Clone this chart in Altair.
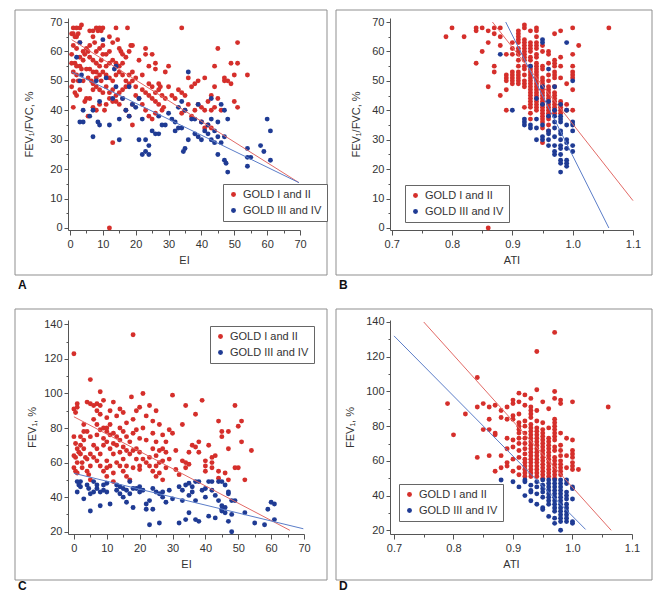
import altair as alt
import pandas as pd

RED = "#d52f2b"
BLUE = "#1f3b94"
LINE_RED = "#e26a66"
LINE_BLUE = "#5b7dc8"
GROUPS = ["GOLD I and II", "GOLD III and IV"]
FONT = "Liberation Sans"

# ---------------- Panel A : EI vs FEV1/FVC (%) ----------------
a_red = [
    (1,68),(2,68),(3,68),(3.5,69),(1,66),(2,65),(0.5,66),(1.5,65),(2.5,66),(1,62),(2,61),(3,63),
    (0.5,59),(3,58),(4,60),(4.5,59),(1.5,56),(0.5,56),(2,55),(3,55),(4,57),(1,53),(2,52),(0.5,48),
    (1.5,46),(2,45),(3,47),(1,50),(4,50),(2.5,50),(1,41),(4.5,43),(5,44),(3.5,54),
    (6,67),(7,67),(8,68),(8.5,67),(9,68),(9.5,67),(10,68),(6,62),(7,65),(7.5,63),(8,60),(9,61),
    (10,62),(5,61),(5.5,60),(6,58),(7,57),(8,56),(9,55),(9.5,57),(10,59),(5,54),(6,54),(7,53),
    (8,53),(9,52),(10,53),(5.5,51),(6.5,50),(7,49),(8,48),(9,47),(10,46),(6,44),(7,41),(8,40),
    (9,42),(5.5,38),(7,47),(8,51),(9.5,50),
    (11,59),(12,60),(12,65),(13,63),(14,68),(14.5,64),(15,61),(15.5,60),(16,59),(11,55),(12,56),
    (13,57),(14,56),(15,55),(16,56),(17,58),(18,60),(18.5,62),(19,62),(11,52),(12,51),(13,50),
    (14,52),(15,53),(16,52),(17,50),(18,52),(19,53),(20,51),(11,48),(12,46),(13,47),(14,45),
    (15,46),(16,47),(17,48),(18,49),(19,50),(20,48),(12,44),(13,43),(14,43),(15,42),(16,44),
    (17,40),(18,38),(19,35),(19,42),(20,45),(13,29),(12,0),(11,42),(10.5,40),(17.5,68),
    (21,57),(22,52),(23,61),(23,59),(24,55),(25,59),(26,54),(22,47),(23,46),(24,45),(25,48),
    (26,46),(27,47),(27.5,48),(28,45),(29,44),(30,48),(26,56),(27,49),(21,44),(22,42),(23,40),
    (24,38),(25,37),(26,39),(27,42),(28,40),(28.5,41),(29,53),(30,55),(24,49),(25,44),(26,43),
    (31,45),(32,44),(33,47),(34,68),(34,46),(35,45),(34,39),(36,51),(37,48),(38,49),(39,50),
    (39,42),(40,36),(40,41),(41,40),(38,40),(35,40),(36,42),(37,38),
    (41,34),(42,35),(43,34),(41,51),(43,45),(44,48),(44,55),(45,61),(45,44),(46,40),(47,51),
    (47,50),(48,50),(49,56),(49,49),(50,43),(50,52),(51,41),(51,63),(51,56),(54,52),(42,43),
    (43,40),(44,41),
]
a_blue = [
    (2,58),(3,63),(3,50),(3.5,52),(4,40),(3,36),(4,36),(6,38),(7,31),(7,40),(8,50),(8.5,36),
    (9,35),(9,43),(10,64),(11,51),(12,35),(13,44),(13.5,54),(14,55),(14,48),(15,37),(15,30),
    (16,44),(17,40),(18,38),(18,48),(19,42),(20,41),(21,30),(21,44),(22,25),(22,37),(23,26),
    (24,25),(24,28),(25,33),(26,32),(27,32),(27,38),(28,35),(29,35),(30,39),(31,37),(32,36),
    (32,33),(33,41),(33,34),(34,43),(34,34),(35,40),(35,27),(34.5,26),(36,53),(36,30),(37,37),
    (38,32),(39,31),(40,30),(40,36),(41,33),(42,35),(42,32),(43,30),(43,44),(43,37),(44,29),
    (45,36),(45,31),(45,25),(46,42),(46,29),(47,40),(47,31),(47,23),(47.5,22),(48,19),(48,37),
    (54,27),(54,24),(54,21),(55,24),(58,28),(59,26),(60,37),(61,33),(61,23),(44,33),(38,37),
    (39,42),(23,30),
]
a_line_red = [(0.5, 64.0), (69.7, 15.4)]
a_line_blue = [(0.5, 53.0), (69.7, 15.4)]

# ---------------- Panel B : ATI vs FEV1/FVC (%) ----------------
b_red_single = [
    (0.79,65),(0.80,68),(0.82,65),(0.84,67),(0.84,68),(0.84,56),(0.85,68),(0.85,60),(0.86,67),
    (0.86,63),(0.86,48),(0.87,68),(0.87,66),(0.87,55),(0.87,53),(0.88,68),(0.88,65),(0.88,62),
    (0.88,45),(0.89,40),(0.89,47),(0.86,0),(1.06,68),(1.01,62),(1.00,68),(0.98,67),(0.97,66),
    (0.99,49),
]
b_red_cols = {
    0.89: [59, 52, 51, 50],
    0.90: [63, 61, 59, 53, 52, 51, 50, 49],
    0.91: [67, 66, 65, 64, 63, 61, 60, 59, 57, 55, 53, 52, 51, 50, 49],
    0.92: [69, 68, 64, 63, 62, 61, 60, 59, 58, 57, 55, 54, 52, 50, 49, 48, 41],
    0.93: [67, 63, 62, 61, 60, 58, 57, 55, 54, 53, 52, 51, 50, 49, 48, 47, 46, 45, 44, 43, 42, 41, 39, 37],
    0.94: [68, 67, 65, 63, 62, 61, 59, 58, 56, 55, 54, 53, 52, 51, 50, 49, 48, 47, 46, 45, 44, 43, 42, 41, 40],
    0.95: [62, 60, 55, 54, 51, 50, 49, 48, 47, 46, 45, 44, 43, 42, 41, 40, 39, 38, 37, 36, 34, 29],
    0.96: [60, 59, 56, 52, 50, 48, 47, 46, 45, 44, 43, 42, 41, 40, 39, 38, 37, 35, 33],
    0.97: [57, 56, 55, 53, 52, 51, 48, 46, 45, 44, 43, 42, 41, 40, 39],
    0.98: [58, 55, 51, 43, 42, 41, 40, 39],
    0.99: [42, 40],
    1.00: [59, 55, 53, 52, 51, 47, 40],
}
b_blue = [
    (0.88,59),(0.90,40),(0.92,37),(0.92,36),(0.92,35),(0.93,35),(0.93,34),(0.93,55),(0.94,30),
    (0.94,34),(0.94,44),(0.94,37),(0.95,64),(0.95,63),(0.95,48),(0.95,42),(0.95,35),(0.95,31),
    (0.95,30),(0.96,54),(0.96,43),(0.96,38),(0.96,33),(0.96,32),(0.96,30),(0.96,28),(0.97,48),
    (0.97,40),(0.97,38),(0.97,36),(0.97,34),(0.97,31),(0.97,28),(0.97,26),(0.97,25),(0.98,42),
    (0.98,38),(0.98,37),(0.98,36),(0.98,33),(0.98,32),(0.98,30),(0.98,28),(0.98,27),(0.98,25),
    (0.98,23),(0.98,22),(0.98,19),(0.99,63),(0.99,40),(0.99,35),(0.99,30),(0.99,29),(0.99,27),
    (0.99,23),(0.99,22),(0.99,21),(1.00,50),(1.00,36),(1.00,35),(1.00,33),(1.00,28),(1.00,26),
]
b_line_red = [(0.867, 70.0), (1.100, 9.3)]
b_line_blue = [(0.889, 70.0), (1.060, 0.0)]

# ---------------- Panel C : EI vs FEV1 (%) ----------------
c_red = [
    (0,123),(0,91),(0.5,89),(1,94),(1,92),(0,75),(0.5,71),(1,68),(0,64),(0.5,63),(1,60),(0,57),
    (0.5,55),(1,54),(1.5,66),(2,75),(2,70),(2,65),(2.5,60),(3,82),(3,78),(3,73),(3,68),(2.5,57),
    (3.5,63),(4,95),(4,78),(4,62),(4,55),(4.5,53),(5,108),(5,94),(5,75),(5,65),(5,58),(5,50),
    (6,93),(6,85),(6,70),(6,63),(7,94),(7,90),(7,82),(7,76),(7,68),(7,61),(8,101),(8,93),(8,88),
    (8,79),(8,65),(8,58),(9,96),(9,80),(9,74),(9,70),(9,55),(10,86),(10,80),(10,78),(10,72),
    (10,61),(10,57),(10,52),(11,90),(11,82),(11,76),(11,68),(11,58),(12,95),(12,77),(12,71),
    (12,65),(12,54),(13,87),(13,75),(13,70),(13,60),(14,91),(14,80),(14,73),(14,66),(14,58),
    (15,89),(15,78),(15,69),(15,62),(15,55),(16,83),(16,75),(16,67),(16,58),(16,52),(17,72),
    (17,65),(17,50),(17.5,98),(18,134),(18,85),(18,77),(18,67),(18,57),(19,90),(19,79),(19,68),
    (19,62),(20,92),(20,74),(20,66),(20,56),(21,100),(21,80),(21,62),(22,87),(22,73),(22,60),
    (23,93),(23,63),(23,58),(24,84),(24,77),(24,68),(24,55),(25,90),(25,72),(25,64),(25,58),
    (25,52),(26,82),(26,67),(26,60),(26,54),(27,76),(27,68),(27,61),(28,72),(28,66),(28,57),
    (29,79),(29,62),(30,77),(30,99),(31,67),(31,56),(32,53),(33,82),(33,61),(34,93),(34,60),
    (34,57),(35,66),(35,59),(36,70),(37,88),(37,69),(38,72),(38,66),(39,96),(40,61),(40,58),
    (40,55),(41,70),(42,63),(42,60),(42,57),(43,64),(44,84),(44,55),(44,51),(45,78),(45,75),
    (46,54),(47,50),(47,78),(47,68),(49,93),(49,57),(50,57),(50,81),(51,72),(51,84),(52,50),
    (54,67),(27,50),(20,58),(12,49),
]
c_blue = [
    (1,49),(1,43),(1.5,47),(2,49),(2,46),(3,39),(4,47),(4.5,45),(5,42),(5,32),(6,43),(6,49),
    (7,47),(7,45),(8,43),(8,35),(9,47),(9,44),(10,48),(10,43),(11,36),(13,47),(13,44),(14,46),
    (14,42),(15,45),(15,40),(16,44),(16,37),(17,49),(17,42),(18,45),(18,34),(19,45),(20,43),
    (20,46),(21,44),(22,36),(22,33),(23,38),(23,24),(24,33),(24,45),(25,43),(26,42),(26,25),
    (27,43),(27,40),(28,37),(29,44),(30,39),(32,46),(32,25),(33,38),(33,44),(34,27),(34,47),
    (35,41),(35,31),(35,48),(36,43),(36,46),(37,38),(37,27),(37,49),(38,49),(38,26),(39,44),
    (40,40),(40,45),(41,29),(41,49),(42,49),(42,44),(43,41),(43,28),(44,38),(44,49),(45,33),
    (45,35),(45,49),(46,34),(46,47),(47,26),(47,42),(47,43),(48,20),(48,30),(48,38),(49,38),
    (52,31),(55,25),(58,24),(59,33),(60,37),(61,36),(61,27),(46,31),(45,32),
]
c_line_red = [(0.0, 86.5), (65.7, 20.8)]
c_line_blue = [(0.0, 53.8), (69.8, 21.7)]

# ---------------- Panel D : ATI vs FEV1 (%) ----------------
d_red_single = [
    (0.79,93),(0.80,75),(0.82,87),(0.84,108),(0.84,91),(0.84,62),(0.85,93),(0.85,78),(0.86,91),
    (0.86,84),(0.86,78),(0.86,63),(0.87,92),(0.87,76),(0.87,75),(0.87,54),(0.88,89),(0.88,85),
    (0.88,63),(0.88,56),(0.89,91),(0.89,84),(0.89,73),(0.89,67),(0.89,59),(0.89,57),(0.90,95),
    (0.90,93),(0.90,86),(0.90,84),(0.90,72),(0.90,68),(0.90,61),(0.90,54),(0.94,123),(0.97,134),
    (1.06,91),(1.01,55),
]
d_red_cols = {
    0.91: [99, 94, 87, 82, 80, 78, 76, 73, 70, 66, 62, 56, 52],
    0.92: [98, 92, 83, 80, 76, 73, 70, 67, 64, 61, 59, 57, 55, 53, 51],
    0.93: [96, 91, 89, 87, 85, 81, 79, 77, 75, 73, 71, 69, 67, 65, 63, 61, 59, 57, 55, 53, 51],
    0.94: [101, 89, 83, 79, 77, 75, 73, 71, 69, 67, 65, 63, 61, 59, 57, 55, 53, 51],
    0.95: [94, 82, 78, 76, 74, 72, 70, 68, 66, 64, 62, 60, 58, 56, 54, 52, 50],
    0.96: [90, 79, 73, 71, 69, 67, 65, 63, 61, 59, 57, 55, 53, 51],
    0.97: [100, 96, 84, 82, 80, 78, 76, 74, 72, 68, 66, 62, 60, 58, 56, 54, 52, 50],
    0.98: [95, 93, 76, 69, 66, 63, 60, 58, 56, 54, 52],
    0.99: [73, 63, 56],
    1.00: [94, 72, 66, 64, 62, 59, 57, 55],
}
d_blue_cols = {
    0.88: [49],
    0.90: [48],
    0.91: [45],
    0.92: [49, 48, 40],
    0.93: [46, 43, 42, 37],
    0.94: [48, 45, 41, 35],
    0.95: [49, 46, 44, 42, 39, 33, 32],
    0.96: [49, 47, 45, 43, 41, 39, 37, 35, 28],
    0.97: [49, 47, 45, 43, 41, 39, 37, 35, 33, 31, 27, 24],
    0.98: [49, 47, 45, 43, 41, 39, 37, 35, 33, 31, 29, 27, 25, 20],
    0.99: [49, 47, 42, 40, 38, 35, 33, 31, 29, 27, 25],
    1.00: [45, 44, 38, 25, 24],
}
d_line_red = [(0.750, 140.0), (1.065, 20.0)]
d_line_blue = [(0.700, 132.0), (1.022, 20.5)]


def expand(cols):
    return [(x, y) for x, ys in cols.items() for y in ys]


def points_df(red, blue):
    rows = [{"x": x, "y": y, "g": GROUPS[0]} for x, y in red]
    rows += [{"x": x, "y": y, "g": GROUPS[1]} for x, y in blue]
    return pd.DataFrame(rows)


def panel(red, blue, line_red, line_blue, xdom, ydom, w, h, xticks, yticks,
          xmaj, ymaj, xfmt, xtitle, ytitle, ytp, leg, box, frame_bottom, label, lab_xy):
    xaxis = alt.Axis(
        values=xticks, format=xfmt, title=xtitle, grid=False,
        labelExpr=f"({xmaj}) ? datum.label : ''",
        tickSize={"condition": {"test": xmaj, "value": 5}, "value": 3},
        labelFlush=False, labelOverlap=False, labelPadding=3, titlePadding=5,
    )
    yaxis = alt.Axis(
        values=yticks, title=ytitle, grid=False,
        labelExpr=f"({ymaj}) ? datum.label : ''",
        tickSize={"condition": {"test": ymaj, "value": 4}, "value": 2},
        labelOverlap=False, labelPadding=2, titlePadding=ytp,
    )
    xenc = alt.X("x:Q", scale=alt.Scale(domain=xdom, nice=False, zero=False), axis=xaxis)
    yenc = alt.Y("y:Q", scale=alt.Scale(domain=ydom, nice=False, zero=False), axis=yaxis)

    one = pd.DataFrame({"k": [0]})
    bx0, bx1, by0, by1 = box
    frame_box = alt.Chart(one).mark_rect(fillOpacity=0, stroke="#8f8f8f", strokeWidth=1).encode(
        x=alt.value(bx0), x2=alt.value(bx1), y=alt.value(by0), y2=alt.value(by1))
    frame_pad = alt.Chart(one).mark_rect(opacity=0).encode(
        x=alt.value(bx0), x2=alt.value(bx1), y=alt.value(by0), y2=alt.value(frame_bottom))

    pts = alt.Chart(points_df(red, blue)).mark_circle(size=24, opacity=1).encode(
        x=xenc, y=yenc,
        color=alt.Color("g:N", scale=alt.Scale(domain=GROUPS, range=[RED, BLUE]),
                        legend=alt.Legend(orient="none", legendX=leg[0], legendY=leg[1], title=None)),
    )
    lr = alt.Chart(pd.DataFrame(line_red, columns=["x", "y"])).mark_line(
        color=LINE_RED, strokeWidth=1).encode(x=xenc, y=yenc)
    lb = alt.Chart(pd.DataFrame(line_blue, columns=["x", "y"])).mark_line(
        color=LINE_BLUE, strokeWidth=1).encode(x=xenc, y=yenc)
    lab = alt.Chart(one).mark_text(text=label, font=FONT, fontSize=12, fontWeight="bold",
                                   align="left", baseline="middle", color="#111").encode(
        x=alt.value(lab_xy[0]), y=alt.value(lab_xy[1]))
    return alt.layer(frame_box, frame_pad, pts, lr, lb, lab).properties(width=w, height=h)


ei_ticks = list(range(0, 71, 5))
ati_ticks = [round(0.70 + 0.05 * i, 2) for i in range(9)]
ratio_ticks = list(range(0, 71, 5))
fev_ticks = list(range(20, 141, 10))
ati_major = "abs(round(datum.value * 100)) % 10 === 0"

A = panel(a_red, a_blue, a_line_red, a_line_blue, [-0.61, 70], [-0.68, 71.36], 232, 212,
          ei_ticks, ratio_ticks, "datum.value % 10 === 0", "datum.value % 10 === 0", "d",
          "EI", "FEV₁/FVC, %", 15, (155, 166), (-53, 259, -8, 257), 283, "A", (-50, 267))
B = panel(b_red_single + expand(b_red_cols), b_blue, b_line_red, b_line_blue,
          [0.6972, 1.1], [-0.68, 71.36], 243, 212,
          ati_ticks, ratio_ticks, ati_major, "datum.value % 10 === 0", ".1f",
          "ATI", "FEV₁/FVC, %", 10, (15, 167), (-54, 262, -8, 257), 283, "B", (-51, 267))
C = panel(c_red, c_blue, c_line_red, c_line_blue, [-1.8, 70], [18.67, 142.5], 236, 214,
          ei_ticks, fev_ticks, "datum.value % 10 === 0", "datum.value % 20 === 0", "d",
          "EI", "FEV₁, %", 6, (142, 6), (-53, 259, -11, 260), 271, "C", (-50, 266))
D = panel(d_red_single + expand(d_red_cols), expand(d_blue_cols), d_line_red, d_line_blue,
          [0.6933, 1.1], [17.87, 141.15], 242, 214,
          ati_ticks, fev_ticks, ati_major, "datum.value % 20 === 0", ".1f",
          "ATI", "FEV₁, %", 10, (9, 164), (-54, 262, -11, 260), 271, "D", (-51, 266))

row1 = alt.hconcat(A, B, spacing=7).resolve_scale(color="independent").resolve_legend(color="independent")
row2 = alt.hconcat(C, D, spacing=7).resolve_scale(color="independent").resolve_legend(color="independent")

chart = (
    alt.vconcat(row1, row2, spacing=7)
    .resolve_scale(color="independent")
    .resolve_legend(color="independent")
    .properties(padding={"left": 14, "top": 9, "right": 2, "bottom": 0}, background="white")
    .configure_view(strokeWidth=0)
    .configure_axis(
        labelFont=FONT, labelFontSize=11, labelColor="#333",
        titleFont=FONT, titleFontSize=11, titleFontWeight="normal", titleColor="#333",
        domainColor="#555", tickColor="#555", domainWidth=1, tickWidth=1,
    )
    .configure_legend(
        labelFont=FONT, labelFontSize=11, labelColor="#333",
        symbolType="circle", symbolSize=24, symbolStrokeWidth=0,
        strokeColor="#666", fillColor="white", padding=5, rowPadding=4, labelOffset=4,
    )
)

chart.save("out.html", embed_options={"renderer": "svg", "actions": False})
